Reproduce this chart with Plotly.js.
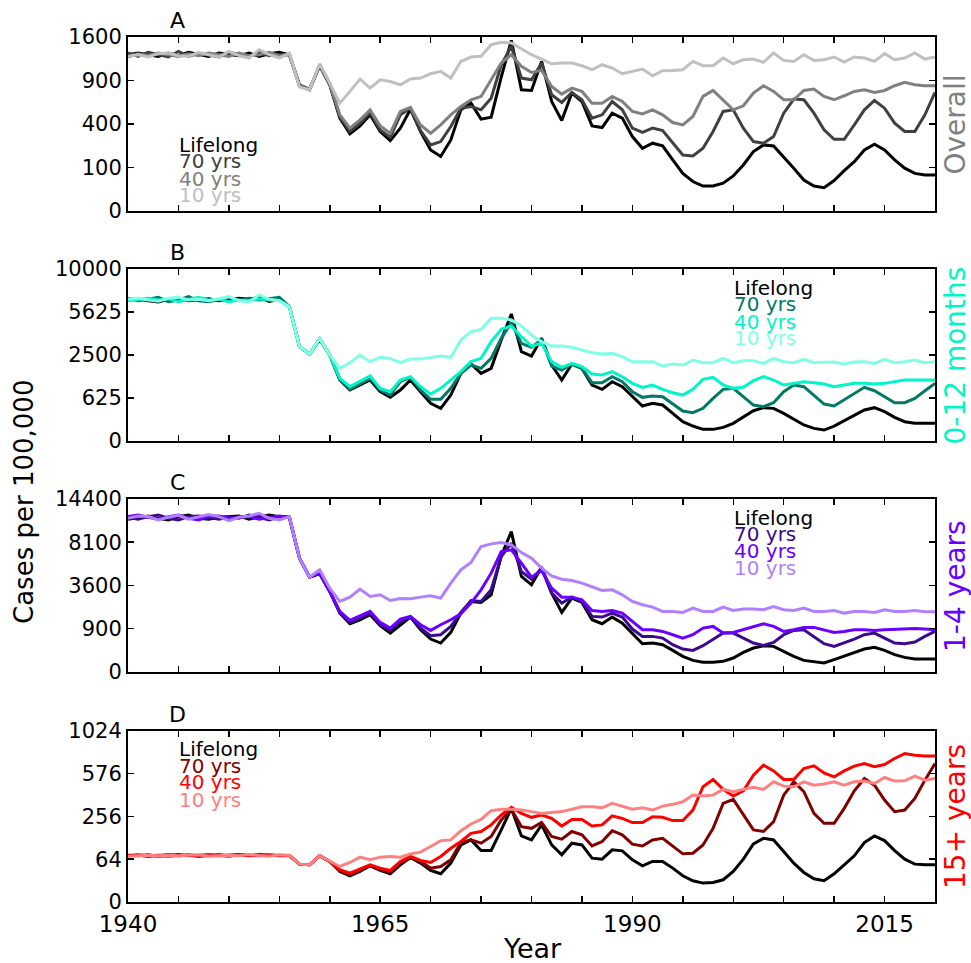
<!DOCTYPE html>
<html>
<head>
<meta charset="utf-8">
<script src="https://cdn.plot.ly/plotly-3.0.1.min.js"></script>
<style>html,body{margin:0;padding:0;background:#fff;}#chart{width:971px;height:963px;}</style>
</head>
<body>
<div id="chart"></div>
<script>
// ---------------- DATA (cases per 100,000) ----------------
const years = [1940,1941,1942,1943,1944,1945,1946,1947,1948,1949,1950,1951,1952,1953,1954,1955,1956,1957,1958,1959,1960,1961,1962,1963,1964,1965,1966,1967,1968,1969,1970,1971,1972,1973,1974,1975,1976,1977,1978,1979,1980,1981,1982,1983,1984,1985,1986,1987,1988,1989,1990,1991,1992,1993,1994,1995,1996,1997,1998,1999,2000,2001,2002,2003,2004,2005,2006,2007,2008,2009,2010,2011,2012,2013,2014,2015,2016,2017,2018,2019,2020];

const seriesNames = ["Lifelong", "70 yrs", "40 yrs", "10 yrs"];

// Panel A: Overall
const overallLifelong = [1291,1319,1291,1264,1319,1275,1330,1291,1264,1319,1291,1275,1319,1264,1308,1330,1291,829,777,1115,842,456,315,383,489,334,262,363,548,334,197,157,267,541,615,446,465,948,1539,777,768,1183,634,433,735,634,383,368,506,456,293,208,243,224,138,75,46,33,33,41,65,112,187,231,224,157,97,51,33,29,49,86,129,197,236,197,138,97,75,69,69];
const overall70 = [1319,1264,1330,1291,1253,1347,1264,1319,1291,1253,1330,1291,1264,1330,1275,1291,1291,842,785,1131,856,472,334,408,513,348,288,489,559,342,231,255,377,559,578,541,673,1131,1433,934,910,1157,714,623,743,654,456,489,634,541,363,326,363,342,243,166,160,208,334,524,541,363,255,243,293,506,662,654,506,348,272,272,392,541,646,559,408,334,334,489,743];
const overall40 = [1253,1308,1275,1319,1291,1264,1308,1275,1319,1291,1264,1319,1275,1291,1330,1275,1291,829,777,1131,856,489,363,439,541,383,320,524,567,392,320,392,489,578,654,694,910,1157,1291,1105,1015,1045,820,722,798,756,615,615,694,634,524,499,541,489,414,392,472,694,768,654,541,585,735,829,756,654,654,768,785,694,654,702,756,777,743,768,829,874,842,829,829];
const overall10 = [1264,1291,1253,1308,1319,1275,1264,1330,1291,1253,1347,1275,1237,1375,1291,1237,1319,811,777,1146,865,615,756,920,798,910,887,842,920,934,996,1030,934,1183,1253,1264,1462,1503,1492,1387,1291,1220,1146,1157,1157,1115,1055,1131,1080,996,1030,1065,967,1040,1045,1055,1183,1115,1115,1237,1146,1210,1220,1167,1319,1199,1183,1291,1199,1210,1253,1173,1253,1237,1183,1308,1210,1237,1319,1220,1253];

// Panel B: 0-12 months
const infantLifelong = [6721,6848,6657,6531,6784,6880,6657,6784,6848,6657,6721,6880,6784,6977,6594,6784,6100,3008,2559,3494,2500,1258,879,1060,1258,823,645,879,1258,823,480,361,715,1548,2004,1548,1785,3448,5452,2698,2442,3563,1953,1258,2004,1785,1060,902,1190,998,664,414,480,438,259,126,76,46,46,63,106,200,311,376,361,259,164,87,54,41,76,140,211,325,376,291,189,126,106,106,106];
const infant70 = [6880,6657,6784,6977,6563,6721,7042,6657,6563,6784,6977,6657,6880,6721,6848,6977,6100,3008,2559,3540,2500,1285,902,1098,1328,879,715,1190,1370,879,587,587,938,1548,1953,1785,2310,3563,4733,3224,2966,3494,1901,1704,2004,1785,1150,1150,1399,1190,823,645,685,664,463,304,271,361,615,902,938,664,438,398,497,823,1060,998,715,463,414,568,768,974,856,664,497,497,615,856,1124];
const infant40 = [6657,6784,6880,6721,6848,6563,6784,6977,6721,6784,6563,6721,6657,6848,6721,6657,6100,3008,2559,3540,2500,1328,998,1190,1428,938,823,1258,1399,998,747,938,1258,1625,2128,2310,3336,4215,4471,3680,3051,3224,2128,1834,2039,1868,1517,1472,1625,1399,1124,974,1060,902,790,715,902,1285,1370,1060,938,974,1230,1399,1258,1060,1124,1190,1150,1098,998,1060,1124,1124,1098,1124,1190,1258,1258,1258,1258];
const infant10 = [6784,6913,6721,6594,6880,6977,6721,6784,6657,6880,7042,6657,6531,7206,6784,6657,6100,3008,2559,3540,2500,1785,2074,2500,2128,2366,2310,2074,2273,2273,2366,2442,2366,3448,4041,4215,5087,5087,4949,4471,3798,3336,3051,3051,2966,2799,2638,2559,2598,2404,2128,2128,2128,1901,2004,1953,2218,2074,2074,2310,2074,2182,2182,2039,2310,2128,2074,2255,2074,2092,2110,2004,2110,2128,2039,2255,2074,2128,2218,2074,2128];

// Panel C: 1-4 years
const childLifelong = [11223,11518,11717,11370,11125,11618,11868,11370,11223,11518,11618,11717,11223,11618,11868,11618,11518,6231,4327,4636,3120,1669,1120,1313,1576,1029,729,1074,1450,859,522,403,754,1669,2394,2327,2867,6488,9486,4388,3657,5286,2992,1707,2625,2327,1313,1120,1450,1151,704,385,403,358,225,118,65,45,45,55,94,185,276,332,316,205,118,65,48,39,73,118,173,254,292,225,144,103,81,81,81];
const child70 = [11518,11223,11618,11868,11370,11125,11618,11717,11518,11223,11518,11370,11868,11518,11125,11618,11518,6231,4327,4699,3120,1707,1183,1398,1669,1074,832,1231,1450,928,633,668,1000,1707,2462,2394,3250,6414,7978,4858,4147,5186,2992,2283,2697,2394,1486,1450,1669,1450,886,610,610,554,358,254,225,332,501,729,729,554,403,341,422,668,832,859,610,385,316,403,522,668,729,554,403,385,431,610,793];
const child40 = [11618,11868,11518,11223,11618,11868,11370,11125,11618,11717,11370,11518,11618,11223,11518,11717,11518,6231,4327,4699,3120,1765,1280,1521,1765,1183,928,1347,1486,1074,832,1074,1313,1631,2283,3250,4699,6981,7175,5696,4327,4955,3383,2697,2697,2508,1823,1765,1823,1669,1231,859,859,793,668,554,668,928,1000,729,754,859,1000,1120,1000,793,859,957,957,859,754,793,859,859,832,859,886,914,914,886,859];
const child10 = [11370,11717,11618,11125,11518,11818,11223,11518,11918,11618,11028,11518,11717,12120,11370,11125,11618,6231,4327,5021,3383,2394,2697,3303,2745,2867,2462,2602,2578,2697,2794,2625,3798,5021,5766,7571,7896,8061,7773,6866,6231,5186,4449,4147,4029,3798,3518,3198,3250,2867,2394,2174,2026,1765,1765,1707,1964,1765,1765,2026,1823,1903,1903,1863,2067,1863,1823,1964,1765,1765,1823,1669,1765,1765,1707,1863,1765,1765,1823,1745,1745];

// Panel D: 15+ years
const adultLifelong = [74.6,76.8,73.5,75.7,77.9,74.6,76.8,73.5,75.7,77.9,74.6,76.8,74.6,77.9,75.7,76.8,75.7,50.2,48.4,74.6,57.5,32.7,24.1,32.7,45.9,34.8,27.9,48.4,69.3,52.9,34.8,27.9,52.9,114,135,92.8,92.8,182,307,153,135,208,114,77.9,121,114,67.3,64.3,95.2,91.6,62.3,45.9,57.5,57.5,40.2,24.1,15.8,12.5,13.4,17.3,32.7,64.3,118,142,135,89.2,52.9,30.6,18.9,15.8,27.9,48.4,74.6,124,153,132,92.8,64.3,50.2,48.4,48.4];
const adult70 = [76.8,74.6,77.9,73.5,75.7,79.0,74.6,76.8,77.9,74.6,76.8,79.0,75.7,77.9,76.8,75.7,75.7,50.2,48.4,74.6,57.5,34.8,26.0,34.8,46.7,36.3,30.6,52.9,70.4,57.5,40.2,44.2,62.3,124,135,121,150,236,301,199,190,221,150,138,174,158,110,128,178,158,117,110,135,142,108,81.2,83.4,114,190,341,369,265,182,174,226,400,506,426,275,217,217,307,433,534,478,364,286,296,376,520,671];
const adult40 = [75.7,77.9,74.6,76.8,73.5,75.7,77.9,74.6,76.8,75.7,73.5,77.9,76.8,74.6,77.9,74.6,75.7,50.2,48.4,74.6,57.5,36.3,29.2,37.8,48.4,40.2,34.8,57.5,72.5,60.3,54.7,72.5,101,128,165,174,208,265,314,275,251,265,245,202,239,239,202,208,259,245,221,221,255,251,232,232,296,465,526,444,393,433,563,655,602,526,526,624,649,584,549,602,646,671,640,662,721,771,754,747,747];
const adult10 = [73.5,75.7,76.8,74.6,76.8,74.6,75.7,77.9,73.5,75.7,76.8,74.6,79.0,75.7,73.5,77.9,75.7,50.2,48.4,74.6,57.5,44.2,54.7,70.4,62.3,70.4,72.5,70.4,81.2,86.9,108,132,135,178,213,239,292,301,301,296,286,275,281,286,301,318,318,311,341,322,301,311,296,322,334,352,400,393,400,444,426,444,460,444,506,470,465,506,478,487,506,478,506,512,492,543,512,514,555,520,534];

// Tick labels (square-root axes)
const ticksA = [0, 100, 400, 900, 1600];
const ticksB = [0, 625, 2500, 5625, 10000];
const ticksC = [0, 900, 3600, 8100, 14400];
const ticksD = [0, 64, 256, 576, 1024];
const xTickYears = [1940,1945,1950,1955,1960,1965,1970,1975,1980,1985,1990,1995,2000,2005,2010,2015,2020];
const xLabelYears = [1940, 1965, 1990, 2015];

const panelLetters = ["A", "B", "C", "D"];
const groupLabels = ["Overall", "0-12 months", "1-4 years", "15+ years"];

// ---------------- STYLE ----------------
const FONT = "DejaVu Sans, Verdana, sans-serif";
const panels = [
  {data:[overallLifelong, overall70, overall40, overall10], ticks:ticksA,
   colors:["#000000","#404040","#808080","#c0c0c0"], label:"#808080",
   dom:[0.7988,1.0], legX:0.0607, legY:[144.7,161.3,178.7,195.3]},
  {data:[infantLifelong, infant70, infant40, infant10], ticks:ticksB,
   colors:["#000000","#007a66","#00f5c8","#80ffe6"], label:"#00f5c8",
   dom:[0.5329,0.7318], legX:0.7485, legY:[287.7,304.3,321.7,337.7]},
  {data:[childLifelong, child70, child40, child10], ticks:ticksC,
   colors:["#000000","#3c0a8c","#6a00ff","#b080ff"], label:"#6a00ff",
   dom:[0.2659,0.4659], legX:0.7485, legY:[517.7,534.3,551,567.7]},
  {data:[adultLifelong, adult70, adult40, adult10], ticks:ticksD,
   colors:["#000000","#800000","#ff0000","#ff8080"], label:"#ff0000",
   dom:[0.0,0.1977], legX:0.0607, legY:[749,765.7,782.3,799.7]}
];

const H = 963, T = 37, B = 61, PH = H - T - B;
function pyToPaper(py){ return (H - B - py) / PH; }

const traces = [];
const layout = {
  width: 971, height: 963,
  margin: {l:128, r:36, t:37, b:61, pad:0},
  paper_bgcolor: "#ffffff", plot_bgcolor: "#ffffff",
  showlegend: false,
  font: {family: FONT, color: "#000"},
  annotations: []
};

panels.forEach((p, i) => {
  const n = i + 1;
  const xa = n === 1 ? "x" : "x" + n;
  const ya = n === 1 ? "y" : "y" + n;
  p.data.forEach((vals, k) => {
    traces.push({
      x: years, y: vals.map(v => Math.sqrt(v)),
      xaxis: xa, yaxis: ya, type: "scatter", mode: "lines",
      name: seriesNames[k],
      line: {color: p.colors[k], width: 3},
      hoverinfo: "skip"
    });
  });
  const ymax = Math.sqrt(p.ticks[p.ticks.length - 1]);
  layout["xaxis" + (n === 1 ? "" : n)] = {
    domain: [0, 1], anchor: ya, range: [1940, 2020],
    tickmode: "array", tickvals: xTickYears,
    ticktext: xTickYears.map(y => xLabelYears.includes(y) ? String(y) : ""),
    showticklabels: n === 4,
    ticks: "inside", ticklen: 6, tickwidth: 1.5, tickcolor: "#000",
    showline: true, linewidth: 2, linecolor: "#000", mirror: "allticks",
    showgrid: false, zeroline: false,
    tickfont: {family: FONT, size: 23, color: "#000"}
  };
  layout["yaxis" + (n === 1 ? "" : n)] = {
    domain: p.dom, anchor: xa, range: [0, ymax],
    tickmode: "array", tickvals: p.ticks.map(t => Math.sqrt(t)),
    ticktext: p.ticks.map(t => String(t)),
    ticks: "inside", ticklen: 6, tickwidth: 1.5, tickcolor: "#000",
    showline: true, linewidth: 2, linecolor: "#000", mirror: "allticks",
    showgrid: false, zeroline: false,
    tickfont: {family: FONT, size: 21, color: "#000"}
  };
  // panel letter
  layout.annotations.push({
    text: panelLetters[i], xref: "paper", yref: "paper",
    x: 0.0613, y: p.dom[1] + 16.5 / PH, xanchor: "center", yanchor: "middle",
    showarrow: false, font: {family: FONT, size: 22, color: "#000"}
  });
  // group label on right
  layout.annotations.push({
    text: groupLabels[i], xref: "paper", yref: "paper",
    x: 1.0254, y: (p.dom[0] + p.dom[1]) / 2, xanchor: "center", yanchor: "middle",
    textangle: -90, showarrow: false, font: {family: FONT, size: 28, color: p.label}
  });
  // legend text
  seriesNames.forEach((s, k) => {
    layout.annotations.push({
      text: s, xref: "paper", yref: "paper",
      x: p.legX, y: pyToPaper(p.legY[k]), xanchor: "left", yanchor: "middle",
      showarrow: false, font: {family: FONT, size: 20, color: p.colors[k]}
    });
  });
});

layout.annotations.push({
  text: "Cases per 100,000", xref: "paper", yref: "paper",
  x: -0.1289, y: pyToPaper(502), xanchor: "center", yanchor: "middle",
  textangle: -90, showarrow: false, font: {family: FONT, size: 26, color: "#000"}
});
layout.annotations.push({
  text: "Year", xref: "paper", yref: "paper",
  x: 0.5012, y: pyToPaper(948.5), xanchor: "center", yanchor: "middle",
  showarrow: false, font: {family: FONT, size: 27, color: "#000"}
});

Plotly.newPlot("chart", traces, layout, {displayModeBar: false, staticPlot: true});
</script>
</body>
</html>
